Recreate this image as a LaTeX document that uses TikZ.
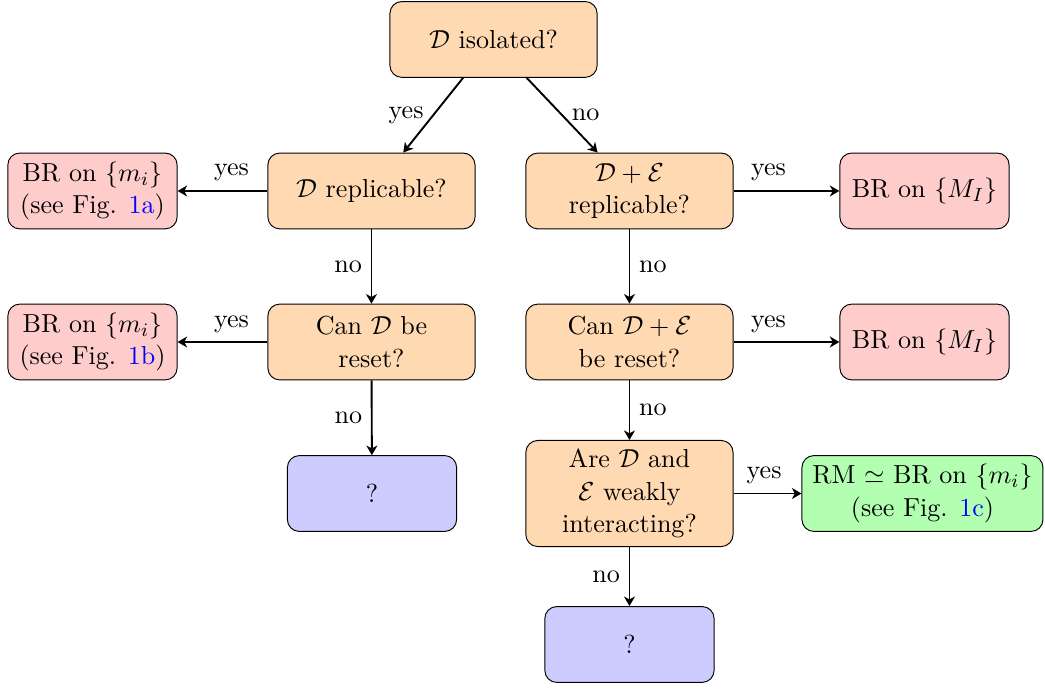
\documentclass[tikz,border=0pt,11pt]{standalone}
\usetikzlibrary{arrows.meta}
\begin{document}
\begin{tikzpicture}[->,>={Stealth[length=4pt,width=4.6pt,inset=1.2pt]}]
        \tikzstyle{decision}=[rectangle,rounded corners=5pt,draw=black,fill=orange!30,align=center,minimum width=3.06cm,minimum height=1.12cm]
        \tikzstyle{result}=[rectangle,rounded corners=5pt,draw=black,fill=red!20,align=center,minimum width=2.5cm,minimum height=1.12cm]
        \tikzstyle{approx}=[rectangle,rounded corners=5pt,draw=black,fill=green!30,align=center,minimum width=3.56cm,minimum height=1.12cm]
        \tikzstyle{unknown}=[rectangle,rounded corners=5pt,draw=black,fill=blue!20,align=center,minimum width=2.5cm,minimum height=1.12cm]
        \tikzstyle{edge}=[thick]
        \useasboundingbox (0,0) rectangle (15.436,-10.163);
       \begin{scope}
         \node [decision] (isol) at (7.29,-0.583) {$\mathcal{D}$ isolated?};
         \node [decision] (repD) at (5.487,-2.821) {$\mathcal{D}$ replicable?};
         \node [decision] (repDE) at (9.298,-2.821) {$\mathcal{D}+\mathcal{E}$\\replicable?};
         \node [result] (brA) at (1.366,-2.821) {BR on $\{m_i\}$\\(see Fig. \textcolor{blue}{1a})};
         \node [result] (brM1) at (13.656,-2.821) {BR on $\{M_I\}$};
         \node [decision] (resetD) at (5.487,-5.052) {Can $\mathcal{D}$ be\\reset?};
         \node [result] (brB) at (1.366,-5.052) {BR on $\{m_i\}$\\(see Fig. \textcolor{blue}{1b})};
         \node [decision] (resetDE) at (9.298,-5.052) {Can $\mathcal{D}+\mathcal{E}$\\be reset?};
         \node [result] (brM2) at (13.656,-5.052) {BR on $\{M_I\}$};
         \node [unknown] (unkA) at (5.495,-7.29) {?};
         \node [decision,minimum height=1.55cm] (weak) at (9.298,-7.29) {Are $\mathcal{D}$ and\\$\mathcal{E}$ weakly\\interacting?};
         \node [approx] (rm) at (13.626,-7.29) {RM $\simeq$ BR on $\{m_i\}$\\(see Fig. \textcolor{blue}{1c})};
         \node [unknown] (unkB) at (9.298,-9.52) {?};
         \path[edge] ([xshift=-0.45cm]isol.south) edge node[left] {yes} ([xshift=0.47cm]repD.north);
         \path[edge] ([xshift=0.49cm]isol.south) edge node[right] {no} ([xshift=-0.47cm]repDE.north);
         \path[edge] (repD) edge node[above,pos=0.4] {yes} (brA);
         \path[edge] (repD) edge node[left] {no} (resetD);
         \path[edge] (resetD) edge node[above,pos=0.4] {yes} (brB);
         \path[edge] (resetD) edge node[left] {no} (unkA);
         \path[edge] (repDE) edge node[above,pos=0.33] {yes} (brM1);
         \path[edge] (repDE) edge node[right] {no} (resetDE);
         \path[edge] (resetDE) edge node[above,pos=0.33] {yes} (brM2);
         \path[edge] (resetDE) edge node[right] {no} (weak);
         \path[edge] (weak) edge node[above,pos=0.45] {yes} (rm);
         \path[edge] (weak) edge node[left] {no} (unkB);
        \end{scope}
      \end{tikzpicture}
\end{document}
